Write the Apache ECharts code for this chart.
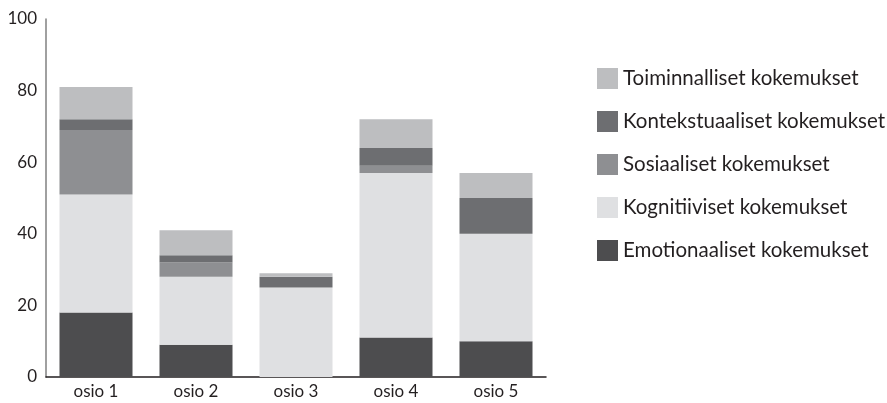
<!DOCTYPE html>
<html>
<head>
<meta charset="utf-8">
<script src="https://cdn.jsdelivr.net/npm/echarts@6/dist/echarts.min.js"></script>
<style>
  html, body { margin: 0; padding: 0; background: #fff; }
  #main { width: 887px; height: 403px; }
</style>
</head>
<body>
<div id="main"></div>
<script>
// kategoriat ja sarjat (pinottu alhaalta ylös)
const categories = ['osio 1', 'osio 2', 'osio 3', 'osio 4', 'osio 5'];
const emotionaaliset = [18, 9, 0, 11, 10];
const kognitiiviset = [33, 19, 25, 46, 30];
const sosiaaliset = [18, 4, 0, 2, 0];
const kontekstuaaliset = [3, 2, 3, 5, 10];
const toiminnalliset = [9, 7, 1, 8, 7];
const yTicks = [0, 20, 40, 60, 80, 100];

const FONT = 'Lato, "Noto Sans", sans-serif';

const chart = echarts.init(document.getElementById('main'));

const mk = (name, data, color) => ({
  name: name,
  type: 'bar',
  stack: 'all',
  barWidth: 73,
  data: data,
  itemStyle: { color: color },
  emphasis: { disabled: true }
});

chart.setOption({
  animation: false,
  backgroundColor: '#fff',
  grid: { left: 46, right: 341, top: 19, bottom: 26 },
  legend: {
    orient: 'vertical',
    left: 592,
    top: 63,
    itemWidth: 21,
    itemHeight: 21,
    itemGap: 22,
    icon: 'rect',
    textStyle: { fontFamily: FONT, fontSize: 20.5, color: '#231f20' },
    data: ['Toiminnalliset kokemukset', 'Kontekstuaaliset kokemukset',
      'Sosiaaliset kokemukset', 'Kognitiiviset kokemukset', 'Emotionaaliset kokemukset']
  },
  xAxis: {
    type: 'category',
    data: categories,
    axisLine: { lineStyle: { color: '#231f20', width: 1.5 } },
    axisTick: { show: false },
    axisLabel: { fontFamily: FONT, fontSize: 17, color: '#231f20', margin: 6 }
  },
  yAxis: {
    type: 'value',
    min: yTicks[0],
    max: yTicks[yTicks.length - 1],
    interval: 20,
    axisLine: { show: true, lineStyle: { color: '#808080', width: 1.5 } },
    axisTick: { show: false },
    splitLine: { show: false },
    axisLabel: { fontFamily: FONT, fontSize: 17, color: '#231f20', margin: 9 }
  },
  series: [
    mk('Emotionaaliset kokemukset', emotionaaliset, '#4d4d4f'),
    mk('Kognitiiviset kokemukset', kognitiiviset, '#dfe0e2'),
    mk('Sosiaaliset kokemukset', sosiaaliset, '#8e8f92'),
    mk('Kontekstuaaliset kokemukset', kontekstuaaliset, '#6d6e71'),
    mk('Toiminnalliset kokemukset', toiminnalliset, '#bdbec0')
  ]
});
</script>
</body>
</html>
